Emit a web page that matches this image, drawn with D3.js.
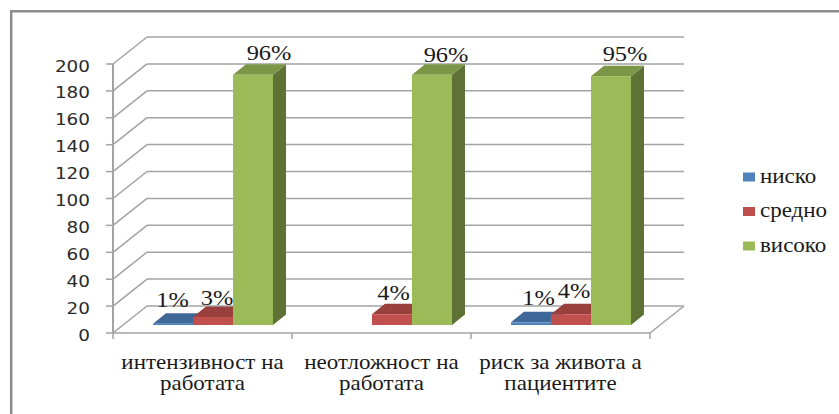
<!DOCTYPE html>
<html>
<head>
<meta charset="utf-8">
<script src="https://cdn.jsdelivr.net/npm/d3@7/dist/d3.min.js"></script>
<style>
html,body{margin:0;padding:0;background:#fff;}
svg{display:block;}
</style>
</head>
<body>
<div id="chart"></div>
<script>
const categories = [["интензивност на","работата"],["неотложност на","работата"],["риск за живота а","пациентите"]];
const seriesNames = ["ниско","средно","високо"];
const nisko = [1, null, 2];
const sredno = [6, 8, 8];
const visoko = [186, 186, 185];
const niskoLabels = ["1%", null, "1%"];
const srednoLabels = ["3%", "4%", "4%"];
const visokoLabels = ["96%", "96%", "95%"];
const yTicks = [0,20,40,60,80,100,120,140,160,180,200];
const palette = {
  ниско: {front:"#4f81bd", top:"#3f6797", side:"#2f4d71"},
  средно:{front:"#c0504d", top:"#99403d", side:"#73302e"},
  високо:{front:"#9bbb59", top:"#7c9647", side:"#5f7236"}
};

const W = 839, H = 414;
const svg = d3.select("#chart").append("svg").attr("width",W).attr("height",H);
const grid = "#a3a3a3";
const ink = "#1a1a1a";

// text is set slightly wide, so each label gets its own horizontal scale
function wideText(parent,px,py,str,anchor,family,size,stretch=1.15){
  return parent.append("text")
    .attr("transform",`translate(${px},${py}) scale(${stretch},1)`)
    .attr("text-anchor",anchor).attr("font-family",family).attr("font-size",size)
    .attr("fill",ink).text(str);
}

// plot box: front-left corner to front-right corner, with an oblique depth offset
const y = d3.scaleLinear().domain([0,200]).range([333,64]);
const x = d3.scaleBand().domain(d3.range(categories.length)).range([113,650]);
const inner = d3.scaleBand().domain(seriesNames).range([40,160]);
const depth = {dx:34, dy:-27};
const barDepth = {dx:13, dy:-10.5};
const barLift = 8;

// outer frame, open on the right and at the bottom
svg.append("path").attr("fill","none").attr("stroke","#8c8c8c").attr("stroke-width",2.5)
  .attr("d","M11.2,414V11.2H839");

// walls
const line = (x0,y0,x1,y1,w=1.5)=>svg.append("line").attr("x1",x0).attr("y1",y0).attr("x2",x1).attr("y2",y1)
  .attr("stroke",grid).attr("stroke-width",w);
const [x0,x1] = x.range();
yTicks.forEach(t=>{
  line(x0,y(t),x0+depth.dx,y(t)+depth.dy);
  line(x0+depth.dx,y(t)+depth.dy,x1+depth.dx,y(t)+depth.dy);
  line(x0-7,y(t),x0,y(t));
});
line(x0,y(200),x0,y(0),2);
line(x0,y(0),x1,y(0));
line(x1,y(0),x1+depth.dx,y(0)+depth.dy);
x.domain().concat(categories.length).forEach(i=>{
  const px = i<categories.length ? x(i) : x1;
  line(px,y(0),px,y(0)+6);
});

// value axis labels
const axisLabels = svg.append("g");
yTicks.forEach(t=>wideText(axisLabels,90,y(t)+7.5,t,"end","'DejaVu Sans'",16).attr("fill","#2a2a2a"));

// bars as oblique boxes
function bar(cat,name,val){
  const c = palette[name];
  const l = x(cat)+inner(name), r = l+inner.bandwidth();
  const base = y(0)-barLift, top = base-(y(0)-y(val));
  const {dx,dy} = barDepth;
  const g = svg.append("g");
  g.append("path").attr("fill",c.side).attr("d",`M${r},${base}L${r+dx},${base+dy}L${r+dx},${top+dy}L${r},${top}Z`);
  g.append("path").attr("fill",c.top).attr("d",`M${l},${top}L${l+dx},${top+dy}L${r+dx},${top+dy}L${r},${top}Z`);
  g.append("rect").attr("fill",c.front).attr("x",l).attr("y",top).attr("width",r-l).attr("height",base-top);
  return {cx:(l+r)/2+dx/2, top:top+dy};
}

// value labels sit loosely over their bars, each with its own nudge from the bar's centre
const nudges = {
  ниско: [[-7,-6],null,[1,-6.8]],
  средно:[[-2.5,-1.4],[-5,-3.7],[-3.5,-5.4]],
  високо:[[9.5,-4.3],[7.5,-2.3],[7.5,-5]]
};
const rows = [[seriesNames[0],nisko,niskoLabels],[seriesNames[1],sredno,srednoLabels],[seriesNames[2],visoko,visokoLabels]];
const labelLayer = [];
rows.forEach(([name,vals,labs])=>vals.forEach((v,i)=>{
  if(v===null) return;
  const b = bar(i,name,v);
  const [nx,ny] = nudges[name][i];
  labelLayer.push({px:b.cx+nx,py:b.top+ny,text:labs[i]});
}));
labelLayer.forEach(d=>wideText(svg,d.px,d.py,d.text,"middle","'Liberation Serif'",20,1.22));

// category labels
categories.forEach((lines,i)=>{
  lines.forEach((s,j)=>wideText(svg,x(i)+x.bandwidth()/2,369+j*21,s,"middle","'Liberation Serif'",20));
});

// legend
const ly = d3.scalePoint().domain(seriesNames).range([177,246]);
seriesNames.forEach(n=>{
  svg.append("rect").attr("x",743).attr("y",ly(n)-4.5).attr("width",12).attr("height",9).attr("fill",palette[n].front);
  wideText(svg,760,ly(n)+5.5,n,"start","'Liberation Serif'",20);
});
</script>
</body>
</html>
